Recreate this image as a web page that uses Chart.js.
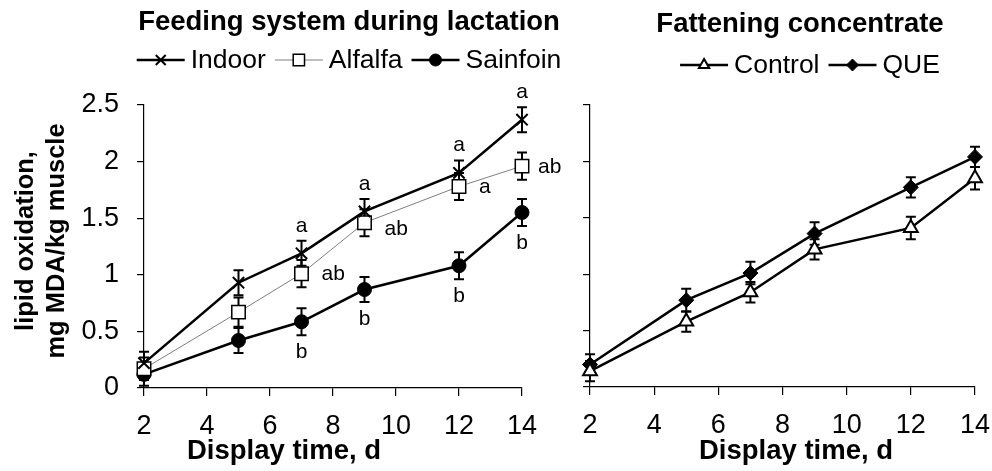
<!DOCTYPE html>
<html>
<head>
<meta charset="utf-8">
<script src="https://cdn.jsdelivr.net/npm/chart.js@4.4.1/dist/chart.umd.min.js"></script>
<style>
  html, body { margin: 0; padding: 0; background: #fff; }
  #wrap { position: relative; width: 992px; height: 471px; overflow: hidden; }
  #c1 { position: absolute; left: 0; top: 0; }
  #c2 { position: absolute; left: 570px; top: 0; }
</style>
</head>
<body>
<div id="wrap">
  <canvas id="c1" width="570" height="471"></canvas>
  <canvas id="c2" width="422" height="471"></canvas>
</div>
<script>
// ---------- data ----------
const days = [2, 5, 7, 9, 12, 14];
const xTickLabels = ['2', '4', '6', '8', '10', '12', '14'];
const yTickLabels = ['0', '0.5', '1', '1.5', '2', '2.5'];

const indoor      = [0.22, 0.93, 1.19, 1.56, 1.90, 2.37];
const indoorErr   = [0.10, 0.11, 0.11, 0.11, 0.11, 0.11];
const indoorSig   = ['', '', 'a', 'a', 'a', 'a'];

const alfalfa     = [0.17, 0.67, 1.01, 1.46, 1.78, 1.96];
const alfalfaErr  = [0.10, 0.13, 0.12, 0.12, 0.12, 0.12];
const alfalfaSig  = ['', '', 'ab', 'ab', 'a', 'ab'];

const sainfoin    = [0.12, 0.42, 0.585, 0.87, 1.08, 1.55];
const sainfoinErr = [0.10, 0.11, 0.12, 0.11, 0.12, 0.12];
const sainfoinSig = ['', '', 'b', 'b', 'b', 'b'];

const control     = [0.14, 0.58, 0.84, 1.22, 1.41, 1.85];
const controlErr  = [0.09, 0.09, 0.09, 0.09, 0.10, 0.10];

const que         = [0.20, 0.77, 1.01, 1.36, 1.77, 2.04];
const queErr      = [0.09, 0.10, 0.10, 0.10, 0.09, 0.09];

const leftTitle  = 'Feeding system during lactation';
const rightTitle = 'Fattening concentrate';
const xTitle     = 'Display time, d';
const yTitle     = ['lipid oxidation,', 'mg MDA/kg muscle'];

// ---------- helpers ----------
const FONT = '"Liberation Sans", Arial, Helvetica, sans-serif';
const pts = vals => days.map((d, i) => ({ x: d, y: vals[i] }));

function drawMarker(ctx, style, x, y) {
  if (Chart.helpers && Chart.helpers.drawPoint) {
    ctx.save();
    ctx.fillStyle = style.backgroundColor;
    ctx.strokeStyle = style.borderColor;
    ctx.lineWidth = style.borderWidth;
    Chart.helpers.drawPoint(ctx, { pointStyle: style.pointStyle, radius: style.radius, rotation: 0, borderWidth: style.borderWidth }, x, y);
    ctx.restore();
  }
}

const annotPlugin = {
  id: 'annot',
  beforeDatasetsDraw(chart) {
    const ctx = chart.ctx, xs = chart.scales.x, ys = chart.scales.y;
    chart.data.datasets.forEach(ds => {
      if (!ds.errors) return;
      ctx.save();
      ctx.strokeStyle = '#000';
      ctx.lineWidth = 2;
      ds.data.forEach((p, i) => {
        const x = xs.getPixelForValue(p.x);
        const t = ys.getPixelForValue(p.y + ds.errors[i]);
        const b = ys.getPixelForValue(p.y - ds.errors[i]);
        ctx.beginPath();
        ctx.moveTo(x, t); ctx.lineTo(x, b);
        ctx.moveTo(x - 5, t); ctx.lineTo(x + 5, t);
        ctx.moveTo(x - 5, b); ctx.lineTo(x + 5, b);
        ctx.stroke();
      });
      ctx.restore();
    });
  },
  afterDatasetsDraw(chart, args, opts) {
    const ctx = chart.ctx, xs = chart.scales.x, ys = chart.scales.y;
    ctx.save();
    ctx.fillStyle = '#000';
    // significance letters
    ctx.font = '21px ' + FONT;
    chart.data.datasets.forEach(ds => {
      if (!ds.sig) return;
      ds.data.forEach((p, i) => {
        const s = ds.sig[i];
        if (!s) return;
        const x = xs.getPixelForValue(p.x);
        if (ds.sigPos === 'above') {
          ctx.textAlign = 'center'; ctx.textBaseline = 'middle';
          ctx.fillText(s, x, ys.getPixelForValue(p.y + ds.errors[i]) - 15);
        } else if (ds.sigPos === 'below') {
          ctx.textAlign = 'center'; ctx.textBaseline = 'middle';
          ctx.fillText(s, x, ys.getPixelForValue(p.y - ds.errors[i]) + 17);
        } else {
          ctx.textAlign = 'left'; ctx.textBaseline = 'middle';
          ctx.fillText(s, x + (p.x === 14 ? 16 : 20), ys.getPixelForValue(p.y) + (p.x === 9 ? 6 : 1));
        }
      });
    });
    // title
    ctx.font = 'bold 27.5px ' + FONT;
    ctx.textAlign = 'center'; ctx.textBaseline = 'middle';
    ctx.fillText(opts.title, opts.titleX, opts.titleY);
    // x title
    ctx.fillText(opts.xTitle, opts.xTitleX, opts.xTitleY);
    // y title
    if (opts.yTitle) {
      ctx.save();
      ctx.font = 'bold 25.5px ' + FONT;
      ctx.translate(0, opts.yTitleY);
      ctx.rotate(-Math.PI / 2);
      opts.yTitle.forEach((line, k) => ctx.fillText(line, 0, opts.yTitleX[k]));
      ctx.restore();
    }
    // legend
    ctx.font = '26.5px ' + FONT;
    const items = chart.data.datasets.map(ds => ({ ds, w: ctx.measureText(ds.label).width }));
    const lineLen = 48, gap1 = 6, gap2 = 9;
    let total = 0;
    items.forEach((it, k) => { total += lineLen + gap1 + it.w + (k < items.length - 1 ? gap2 : 0); });
    let x = opts.legendX - total / 2;
    const y = opts.legendY;
    items.forEach(it => {
      const ds = it.ds;
      ctx.save();
      ctx.strokeStyle = ds.borderColor;
      ctx.lineWidth = ds.borderWidth;
      ctx.beginPath(); ctx.moveTo(x, y); ctx.lineTo(x + lineLen, y); ctx.stroke();
      ctx.restore();
      drawMarker(ctx, {
        pointStyle: ds.pointStyle, radius: ds.legendRadius || ds.pointRadius,
        backgroundColor: ds.pointBackgroundColor, borderColor: '#000', borderWidth: ds.pointBorderWidth
      }, x + lineLen / 2, y);
      x += lineLen + gap1;
      ctx.fillStyle = '#000';
      ctx.textAlign = 'left'; ctx.textBaseline = 'middle';
      ctx.fillText(ds.label, x, y + 1);
      x += it.w + gap2;
    });
    ctx.restore();
  }
};

function mkDataset(label, vals, errs, opt) {
  return Object.assign({
    label, data: pts(vals), errors: errs,
    borderColor: '#000', borderWidth: 2.5,
    pointBorderColor: '#000', pointHoverRadius: 0,
    clip: false, tension: 0, fill: false
  }, opt);
}

function zeroPad(s) { s.paddingLeft = 0; s.paddingRight = 0; s.paddingTop = 0; s.paddingBottom = 0; }

function scales(yWidth, xHeight, showYLabels) {
  return {
    x: {
      type: 'linear', min: 2, max: 14,
      afterFit: s => { s.height = xHeight; zeroPad(s); },
      border: { display: true, color: '#000', width: 1.2 },
      grid: { drawOnChartArea: false, drawTicks: true, tickLength: 8, color: '#000', lineWidth: 1.2 },
      ticks: {
        stepSize: 2, padding: 14, color: '#000', maxRotation: 0,
        font: { family: FONT, size: 27 },
        callback: v => xTickLabels[(v - 2) / 2]
      }
    },
    y: {
      min: 0, max: 2.5,
      afterFit: s => { s.width = yWidth; zeroPad(s); },
      border: { display: true, color: '#000', width: 1.2 },
      grid: { drawOnChartArea: false, drawTicks: true, tickLength: 7, color: '#000', lineWidth: 1.2 },
      ticks: {
        stepSize: 0.5, padding: 18, color: '#000',
        font: { family: FONT, size: 27 },
        callback: v => showYLabels ? yTickLabels[Math.round(v * 2)] : ''
      }
    }
  };
}

const common = {
  responsive: false, animation: false, devicePixelRatio: 1,
  events: [],
  plugins: { legend: { display: false }, title: { display: false }, tooltip: { enabled: false } }
};

new Chart(document.getElementById('c1'), {
  type: 'line',
  data: {
    datasets: [
      mkDataset('Indoor', indoor, indoorErr, { sig: indoorSig, sigPos: 'above',
        pointStyle: 'crossRot', pointRadius: 8, pointBorderWidth: 2, pointBackgroundColor: '#000', legendRadius: 7 }),
      mkDataset('Alfalfa', alfalfa, alfalfaErr, { sig: alfalfaSig, sigPos: 'right',
        borderColor: '#7f7f7f', borderWidth: 1,
        pointStyle: 'rect', pointRadius: 9.5, pointBorderWidth: 1.5, pointBackgroundColor: '#fff', legendRadius: 8 }),
      mkDataset('Sainfoin', sainfoin, sainfoinErr, { sig: sainfoinSig, sigPos: 'below',
        pointStyle: 'circle', pointRadius: 7, pointBorderWidth: 1, pointBackgroundColor: '#000', legendRadius: 6 })
    ]
  },
  options: Object.assign({}, common, {
    layout: { padding: { left: 0, right: 48, top: 105, bottom: 0 } },
    scales: scales(144, 83, true),
    plugins: Object.assign({}, common.plugins, {
      annot: {
        title: leftTitle, titleX: 349, titleY: 22,
        xTitle: xTitle, xTitleX: 284, xTitleY: 451,
        yTitle: yTitle, yTitleX: [26, 57], yTitleY: 241,
        legendX: 349, legendY: 60
      }
    })
  }),
  plugins: [annotPlugin]
});

new Chart(document.getElementById('c2'), {
  type: 'line',
  data: {
    datasets: [
      mkDataset('Control', control, controlErr, {
        pointStyle: 'triangle', pointRadius: 8, pointBorderWidth: 2, pointBackgroundColor: '#fff', legendRadius: 6 }),
      mkDataset('QUE', que, queErr, {
        pointStyle: 'rectRot', pointRadius: 7.5, pointBorderWidth: 1, pointBackgroundColor: '#000', legendRadius: 6 })
    ]
  },
  options: Object.assign({}, common, {
    layout: { padding: { left: 0, right: 17, top: 105, bottom: 0 } },
    scales: scales(20, 84, false),
    plugins: Object.assign({}, common.plugins, {
      annot: {
        title: rightTitle, titleX: 230, titleY: 24,
        xTitle: xTitle, xTitleX: 226, xTitleY: 451,
        legendX: 240, legendY: 65
      }
    })
  }),
  plugins: [annotPlugin]
});
</script>
</body>
</html>
